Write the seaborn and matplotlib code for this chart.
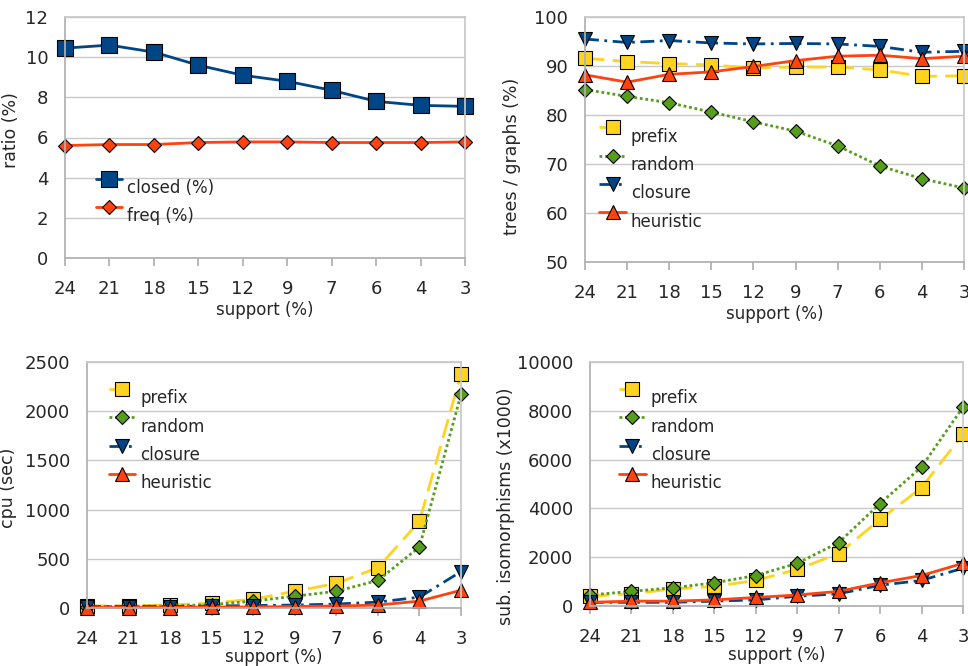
import numpy as np
import pandas as pd
import matplotlib
matplotlib.use("Agg")
import matplotlib.pyplot as plt
import matplotlib.transforms as mtransforms
import seaborn as sns

support = ["24", "21", "18", "15", "12", "9", "7", "6", "4", "3"]

# ratio panel
closed_pct = [10.45, 10.6, 10.25, 9.6, 9.1, 8.8, 8.35, 7.8, 7.6, 7.55]
freq_pct = [5.6, 5.65, 5.65, 5.75, 5.78, 5.78, 5.75, 5.75, 5.75, 5.78]

# trees / graphs panel
tg_prefix = [91.6, 90.9, 90.5, 90.2, 89.6, 89.8, 89.8, 89.2, 87.9, 88.0]
tg_random = [85.2, 83.8, 82.5, 80.6, 78.6, 76.7, 73.7, 69.6, 67.0, 65.1]
tg_closure = [95.5, 94.8, 95.2, 94.7, 94.5, 94.6, 94.5, 94.0, 92.8, 93.0]
tg_heuristic = [88.2, 86.7, 88.3, 88.8, 89.9, 91.1, 92.0, 92.2, 91.5, 92.0]

# cpu panel
cpu_prefix = [20, 25, 30, 50, 90, 170, 250, 410, 880, 2380]
cpu_random = [15, 18, 20, 35, 70, 120, 170, 280, 620, 2170]
cpu_closure = [15, 15, 15, 20, 25, 30, 40, 60, 110, 370]
cpu_heuristic = [5, 5, 5, 10, 10, 15, 20, 30, 70, 180]

# sub. isomorphisms panel
iso_prefix = [400, 500, 700, 800, 1050, 1500, 2150, 3550, 4850, 7050]
iso_random = [450, 600, 750, 950, 1250, 1750, 2600, 4200, 5700, 8150]
iso_closure = [150, 150, 150, 200, 250, 400, 500, 850, 1050, 1550]
iso_heuristic = [150, 200, 200, 250, 350, 450, 600, 950, 1250, 1750]

BLUE = "#004586"
ORANGE = "#ff420e"
YELLOW = "#ffd320"
GREEN = "#579d1c"

sns.set_theme(style="white")
plt.rcParams["font.family"] = ["DejaVu Sans"]
plt.rcParams["font.size"] = 12

styles = {
    "prefix": dict(color=YELLOW, marker="s", dashes=(7, 3), ms=10),
    "random": dict(color=GREEN, marker="D", dashes=(1, 1), ms=7),
    "closure": dict(color=BLUE, marker="v", dashes=(5, 2, 1, 2), ms=10),
    "heuristic": dict(color=ORANGE, marker="^", dashes=(), ms=10),
    "closed (%)": dict(color=BLUE, marker="s", dashes=(), ms=11),
    "freq (%)": dict(color=ORANGE, marker="D", dashes=(), ms=7),
}


def draw(ax, series, ylim, yticks, ylabel, label_xy, leg_anchor, xpad=2):
    for name, vals in series:
        st = styles[name]
        df = pd.DataFrame({"support": support, "value": vals})
        sns.lineplot(data=df, x="support", y="value", ax=ax, color=st["color"],
                     marker=st["marker"], markersize=st["ms"],
                     markeredgecolor="black", markeredgewidth=0.8,
                     linewidth=2, label=name, sort=False, clip_on=False)
        ln = ax.get_lines()[-1]
        if st["dashes"]:
            ln.set_dashes(st["dashes"])
    ax.set_xlim(0, 9)
    ax.set_ylim(*ylim)
    ax.set_yticks(yticks)
    ax.set_xlabel("support (%)", fontsize=12, labelpad=xpad)
    ax.set_ylabel(ylabel, fontsize=12.5)
    ax.yaxis.set_label_coords(*label_xy)
    ax.grid(axis="y", color="#c8c8c8", linewidth=1)
    ax.set_axisbelow(True)
    for s in ["top", "right"]:
        ax.spines[s].set_color("#c8c8c8")
    for s in ["left", "bottom"]:
        ax.spines[s].set_color("#b0b0b0")
    ax.tick_params(axis="x", bottom=True, length=6, color="#b0b0b0", labelsize=13, pad=10)
    ax.tick_params(axis="y", left=False, labelsize=13, pad=6)
    leg = ax.legend(loc="upper left", bbox_to_anchor=leg_anchor, frameon=False,
                    fontsize=12, handlelength=1.6, labelspacing=0.62,
                    handletextpad=0.3, borderaxespad=0)
    # labels sit a little below their keys, like the original
    shift = mtransforms.ScaledTranslation(0, -6 / 72, ax.figure.dpi_scale_trans)
    for t in leg.get_texts():
        t.set_transform(t.get_transform() + shift)


fig = plt.figure(figsize=(9.68, 6.66), dpi=100)
W, H = 968, 666


def box(x0, y0, x1, y1):
    return [x0 / W, 1 - y1 / H, (x1 - x0) / W, (y1 - y0) / H]


ax1 = fig.add_axes(box(65, 17, 465, 258))
ax2 = fig.add_axes(box(585, 17, 964, 262))
ax3 = fig.add_axes(box(87, 362, 461, 608))
ax4 = fig.add_axes(box(590, 362, 963, 606))

draw(ax1, [("closed (%)", closed_pct), ("freq (%)", freq_pct)],
     (0, 12), range(0, 13, 2), "ratio (%)", (-0.112, 0.53), (0.06, 0.39))
draw(ax2, [("prefix", tg_prefix), ("random", tg_random),
           ("closure", tg_closure), ("heuristic", tg_heuristic)],
     (50, 100), range(50, 101, 10), "trees / graphs (%)", (-0.169, 0.43), (0.02, 0.61))
draw(ax3, [("prefix", cpu_prefix), ("random", cpu_random),
           ("closure", cpu_closure), ("heuristic", cpu_heuristic)],
     (0, 2500), range(0, 2501, 500), "cpu (sec)", (-0.187, 0.49), (0.04, 0.95), xpad=0)
draw(ax4, [("prefix", iso_prefix), ("random", iso_random),
           ("closure", iso_closure), ("heuristic", iso_heuristic)],
     (0, 10000), range(0, 10001, 2000), "sub. isomorphisms (x1000)", (-0.20, 0.41), (0.06, 0.95), xpad=0)

fig.savefig("out.png", dpi=100)
